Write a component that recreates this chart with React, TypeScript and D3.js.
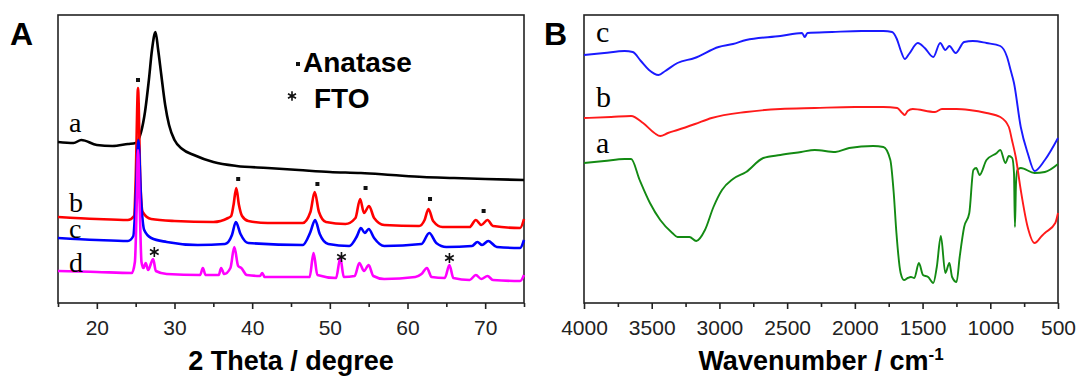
import { useEffect, useRef } from "react";
import * as d3 from "d3";

// XRD patterns, [2theta (deg), intensity (a.u., offset stacked)]
const xrdA = [
  [15, 161], [17, 160], [18, 163], [20, 158], [22, 157], [24, 159], [25, 160],
  [25.7, 171], [26.2, 191], [26.7, 223], [27.1, 253], [27.55, 271], [27.9, 253],
  [28.3, 228], [28.8, 198], [29.3, 178], [30, 163], [31, 154], [32.5, 148],
  [35, 141], [38, 137], [42, 135], [46, 133], [50, 131], [54, 130], [58, 128],
  [62, 126], [66, 125], [70, 124], [75, 123],
];
const xrdB = [
  [15, 86], [20, 84], [24, 83], [24.8, 87], [25.0, 123], [25.3, 215], [25.6, 123],
  [25.9, 91], [27, 84], [30, 82], [35, 81], [36.9, 85], [37.3, 87], [37.6, 98],
  [37.95, 115], [38.3, 98], [38.7, 87], [39.5, 82], [42, 80], [46.5, 80], [47.5, 91],
  [48.05, 111], [48.6, 91], [49.5, 81], [52, 79], [53.3, 85], [53.9, 104], [54.4, 90],
  [55.05, 97], [55.7, 85], [57, 78], [61.5, 77], [62.2, 83], [62.7, 94], [63.3, 82],
  [64.5, 76], [68, 76], [68.8, 83], [69.5, 78], [70.3, 83], [71, 77], [74.5, 75], [75, 84],
];
const xrdC = [
  [15, 65], [20, 63], [24, 62], [24.7, 67], [25.0, 103], [25.35, 163], [25.7, 103],
  [26.1, 73], [27, 65], [29, 61], [33, 58], [36.5, 59], [37.4, 68], [37.9, 81],
  [38.5, 69], [39.5, 60], [46.5, 58], [47.5, 71], [48.1, 83], [48.7, 69], [49.8, 59],
  [52.5, 57], [53.5, 67], [54.0, 75], [54.5, 70], [55.0, 74], [55.7, 65], [57, 57],
  [61.8, 59], [62.8, 70], [63.7, 60], [65, 56], [68.3, 57], [69.0, 61], [69.6, 58],
  [70.4, 62], [71.5, 56], [74.5, 55], [75, 63],
];
const xrdD = [
  [15, 32], [20, 31], [24.5, 30], [24.9, 41], [25.15, 103], [25.3, 153], [25.5, 103],
  [25.75, 41], [26.0, 35], [26.3, 40], [26.6, 33], [27.25, 44], [27.6, 32], [29, 29],
  [33.3, 28], [33.65, 35], [34.0, 28], [35.7, 28], [36.0, 35], [36.4, 29], [37.2, 35],
  [37.7, 56], [38.2, 37], [38.6, 35], [39.3, 28], [41, 27], [41.3, 30], [41.6, 26],
  [47.4, 26], [47.9, 50], [48.4, 28], [50.8, 25], [51.35, 45], [51.8, 26], [53.2, 27],
  [53.8, 40], [54.4, 32], [55.0, 38], [55.6, 27], [57, 24], [61, 26], [61.8, 29],
  [62.5, 35], [63.1, 26], [64.8, 25], [65.4, 38], [65.9, 25], [68, 23], [68.8, 28],
  [69.5, 24], [70.3, 27], [71, 23], [74.5, 22], [75, 28],
];
const anatasePeaks = [[25.3, 223], [38.2, 124], [48.4, 119], [54.6, 115], [62.9, 104], [69.8, 92]];
const ftoPeaks = [[27.4, 51], [51.5, 46], [65.4, 45]];
const xrdLabels = [["a", 171], ["b", 91], ["c", 65], ["d", 31]];

// FTIR spectra, [wavenumber (cm-1), transmittance (a.u., offset stacked)]
const ftirA = [
  [4000, 140], [3850, 142], [3700, 144], [3652, 144], [3589, 123], [3513, 100], [3437, 83],
  [3348, 70], [3310, 66], [3221, 66], [3171, 62], [3107, 73], [3044, 96], [2981, 113],
  [2900, 124], [2803, 131], [2676, 145], [2550, 148], [2397, 151], [2296, 153], [2144, 151],
  [2042, 155], [1865, 157], [1789, 156], [1738, 143], [1713, 110], [1693, 70], [1662, 30],
  [1637, 23], [1610, 25], [1586, 26], [1561, 25], [1527, 40], [1497, 28], [1459, 26],
  [1421, 20], [1395, 36], [1365, 67], [1332, 30], [1302, 40], [1282, 26], [1249, 21],
  [1226, 46], [1193, 76], [1155, 90], [1125, 133], [1104, 135], [1079, 128], [1028, 143],
  [952, 150], [926, 153], [888, 140], [863, 147], [838, 145], [825, 130], [818, 76],
  [810, 120], [800, 133], [775, 135], [673, 130], [597, 131], [500, 139],
];
const ftirB = [
  [4000, 185], [3800, 186], [3652, 187], [3564, 180], [3480, 170], [3437, 167], [3380, 170],
  [3310, 173], [3180, 179], [3057, 185], [2803, 191], [2550, 194], [2296, 195], [2000, 196],
  [1789, 196], [1687, 195], [1650, 190], [1631, 188], [1610, 192], [1573, 194], [1408, 191],
  [1357, 194], [1250, 194], [1155, 193], [1028, 190], [926, 186], [863, 176], [840, 163],
  [812, 146], [775, 113], [724, 76], [673, 60], [620, 67], [597, 70], [520, 80], [500, 90],
];
const ftirC = [
  [4000, 248], [3850, 250], [3700, 252], [3640, 251], [3580, 242], [3520, 233], [3450, 228],
  [3400, 232], [3310, 240], [3183, 245], [3006, 256], [2900, 259], [2803, 263], [2550, 267],
  [2390, 270], [2370, 266], [2350, 270], [2169, 271], [1950, 272], [1789, 272], [1725, 271],
  [1690, 264], [1660, 252], [1631, 244], [1600, 249], [1535, 260], [1484, 255], [1421, 246],
  [1370, 260], [1332, 253], [1302, 257], [1256, 250], [1193, 261], [1129, 262], [1028, 260],
  [926, 257], [876, 246], [850, 233], [825, 220], [775, 176], [724, 150], [673, 132],
  [597, 143], [500, 165],
];
const ftirLabels = [["c", 261], ["b", 196], ["a", 150]];

const SANS = "'Liberation Sans', Arial, sans-serif";
const SERIF = "'Liberation Serif', 'Times New Roman', serif";

export default function App() {
  let ref = useRef(null);

  useEffect(() => {
    const svg = d3.select(ref.current);
    svg.selectAll("*").remove();

    const top = 15, bottom = 303;

    function panel(left, right, xDomain, majors, minors, title, letter, letterX) {
      const x = d3.scaleLinear().domain(xDomain).range([left, right]);
      const y = d3.scaleLinear().domain([0, bottom - top]).range([bottom, top]);
      const g = svg.append("g");

      // minor ticks first, then labelled majors
      g.append("g")
        .attr("transform", `translate(0,${bottom})`)
        .call(d3.axisBottom(x).tickValues(minors).tickSize(4).tickFormat(() => ""))
        .call(s => s.select(".domain").remove())
        .call(s => s.selectAll("line").attr("stroke", "#222").attr("stroke-width", 1.6));
      g.append("g")
        .attr("transform", `translate(0,${bottom})`)
        .call(d3.axisBottom(x).tickValues(majors).tickSize(6).tickPadding(11).tickFormat(d3.format("d")))
        .call(s => s.select(".domain").remove())
        .call(s => s.selectAll("line").attr("stroke", "#222").attr("stroke-width", 1.6))
        .call(s => s.selectAll("text")
          .attr("font-family", SANS).attr("font-size", 21).attr("fill", "#222"));

      g.append("rect")
        .attr("x", left).attr("y", top)
        .attr("width", right - left).attr("height", bottom - top)
        .attr("fill", "none").attr("stroke", "#222").attr("stroke-width", 1.6);

      const t = g.append("text")
        .attr("x", (left + right) / 2).attr("y", 370)
        .attr("text-anchor", "middle")
        .attr("font-family", SANS).attr("font-weight", "bold").attr("font-size", 27);
      t.append("tspan").text(title[0]);
      if (title[1]) {
        t.append("tspan").attr("dy", -10).attr("font-size", 17).text(title[1]);
      }

      g.append("text")
        .attr("x", letterX).attr("y", 45)
        .attr("font-family", SANS).attr("font-weight", "bold").attr("font-size", 32)
        .text(letter);

      return { x, y, g };
    }

    function curve(p, data, color, width) {
      const line = d3.line()
        .x(d => p.x(d[0]))
        .y(d => p.y(d[1]))
        .curve(d3.curveMonotoneX);
      p.g.append("path")
        .datum(data)
        .attr("d", line)
        .attr("fill", "none")
        .attr("stroke", color)
        .attr("stroke-width", width)
        .attr("stroke-linejoin", "round");
    }

    // ---- A: XRD
    const pa = panel(58, 524, [15, 75], [20, 30, 40, 50, 60, 70],
      d3.range(15, 76, 5).filter(v => v % 10 !== 0),
      ["2 Theta / degree"], "A", 10);
    curve(pa, xrdA, "#000000", 2.6);
    curve(pa, xrdB, "#ff0000", 2.6);
    curve(pa, xrdC, "#0000ff", 2.6);
    curve(pa, xrdD, "#ff00ff", 2.6);

    pa.g.selectAll(".ana")
      .data(anatasePeaks)
      .join("rect")
      .attr("x", d => pa.x(d[0]) - 2)
      .attr("y", d => pa.y(d[1]) - 2)
      .attr("width", 4).attr("height", 4)
      .attr("fill", "#111");

    const star = d3.symbol(d3.symbolAsterisk, 70);
    pa.g.selectAll(".fto")
      .data(ftoPeaks)
      .join("path")
      .attr("d", star)
      .attr("transform", d => `translate(${pa.x(d[0])},${pa.y(d[1])})`)
      .attr("fill", "none").attr("stroke", "#111").attr("stroke-width", 1.6);

    pa.g.selectAll(".lab")
      .data(xrdLabels)
      .join("text")
      .attr("x", 69)
      .attr("y", d => pa.y(d[1]))
      .attr("font-family", SERIF).attr("font-size", 28)
      .text(d => d[0]);

    // legend
    pa.g.append("rect").attr("x", 296).attr("y", 62).attr("width", 4).attr("height", 4).attr("fill", "#111");
    pa.g.append("text").attr("x", 303).attr("y", 72)
      .attr("font-family", SANS).attr("font-weight", "bold").attr("font-size", 28).text("Anatase");
    pa.g.append("path").attr("d", d3.symbol(d3.symbolAsterisk, 60)())
      .attr("transform", "translate(292,96)")
      .attr("fill", "none").attr("stroke", "#111").attr("stroke-width", 1.6);
    pa.g.append("text").attr("x", 314).attr("y", 108)
      .attr("font-family", SANS).attr("font-weight", "bold").attr("font-size", 28).text("FTO");

    // ---- B: FTIR
    const pb = panel(584, 1058, [4000, 500], d3.range(4000, 499, -500),
      d3.range(3750, 500, -500),
      ["Wavenumber / cm", "-1"], "B", 544);
    curve(pb, ftirA, "#138a13", 1.9);
    curve(pb, ftirB, "#ff1a1a", 1.9);
    curve(pb, ftirC, "#1a1aff", 1.9);

    pb.g.selectAll(".lab")
      .data(ftirLabels)
      .join("text")
      .attr("x", 596)
      .attr("y", d => pb.y(d[1]))
      .attr("font-family", SERIF).attr("font-size", 30)
      .text(d => d[0]);

    return () => {
      d3.select(ref.current).selectAll("*").remove();
    };
  });

  return (
    <svg ref={ref} width={1077} height={376}
      style={{ position: "absolute", left: 0, top: 0, background: "#fff" }} />
  );
}
